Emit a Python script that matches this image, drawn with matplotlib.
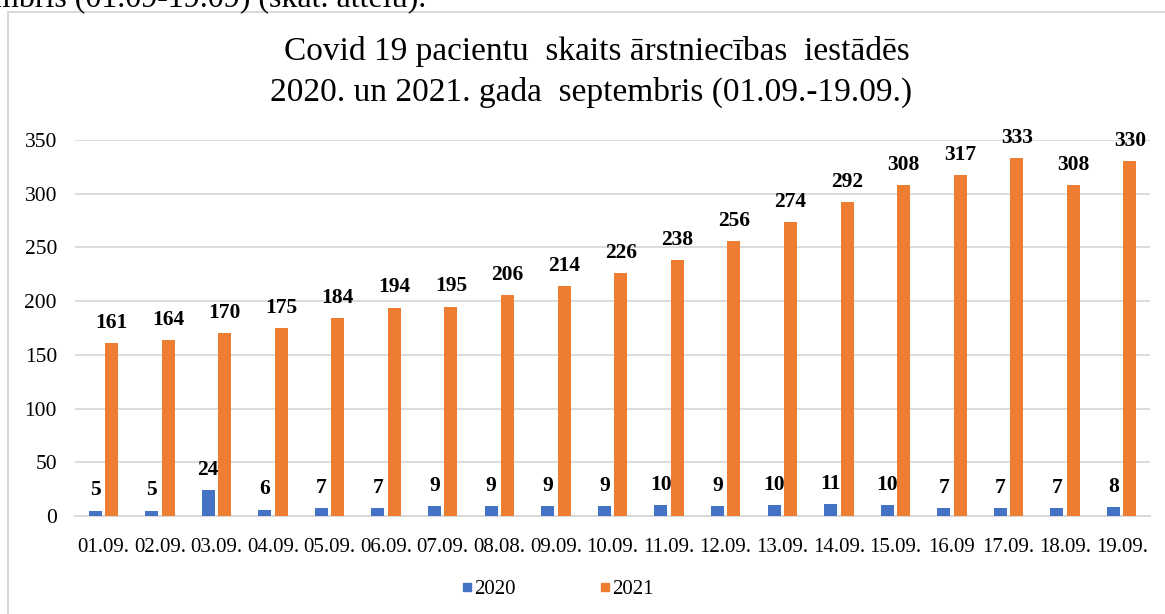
import matplotlib.pyplot as plt
import numpy as np
from matplotlib.lines import Line2D
from matplotlib.patches import Rectangle

plt.rcParams['font.family'] = ['Liberation Serif', 'DejaVu Serif']

dates = ["01.09.", "02.09.", "03.09.", "04.09.", "05.09.", "06.09.", "07.09.",
         "08.08.", "09.09.", "10.09.", "11.09.", "12.09.", "13.09.", "14.09.",
         "15.09.", "16.09", "17.09.", "18.09.", "19.09."]
y2020 = [5, 5, 24, 6, 7, 7, 9, 9, 9, 9, 10, 9, 10, 11, 10, 7, 7, 7, 8]
y2021 = [161, 164, 170, 175, 184, 194, 195, 206, 214, 226, 238, 256, 274, 292,
         308, 317, 333, 308, 330]
years = ["2020", "2021"]
colors = ["#4472C4", "#ED7D31"]

W, H = 1165, 614
fig = plt.figure(figsize=(W / 100, H / 100), dpi=100)
ax = fig.add_axes([75 / W, (H - 516) / H, (1150 - 75) / W, (516 - 140) / H])

x = np.arange(len(dates))
bw = 0.23
off = 0.145
b1 = ax.bar(x - off, y2020, bw, color=colors[0], zorder=3)
b2 = ax.bar(x + off, y2021, bw, color=colors[1], zorder=3)

for bars in (b1, b2):
    for r in bars:
        ax.annotate(str(int(r.get_height())), (r.get_x() + r.get_width() / 2, r.get_height()),
                    xytext=(0, 14.5), textcoords="offset points", ha="center", va="center",
                    fontsize=15.5, fontweight="bold", zorder=4)

ax.set_xlim(-0.5, len(dates) - 0.5)
ax.set_ylim(0, 350)
ax.set_yticks(range(0, 351, 50))
ax.set_xticks(x)
ax.set_xticklabels(dates)
ax.tick_params(axis="y", length=0, pad=13, labelsize=15.5)
ax.tick_params(axis="x", length=0, pad=16, labelsize=15)
ax.yaxis.grid(True, color="#d9d9d9", lw=1.3, zorder=0)
for s in ["top", "right", "left"]:
    ax.spines[s].set_visible(False)
ax.spines["bottom"].set_color("#d9d9d9")
ax.spines["bottom"].set_linewidth(1.5)

handles = [Line2D([], [], marker="s", ls="", color=c, markersize=6) for c in colors]
fig.legend(handles, years, loc="center", bbox_to_anchor=(557 / W, 1 - 589 / H), ncol=2,
           frameon=False, fontsize=15, handlelength=0.6, handletextpad=0.05, columnspacing=4.0)

fig.text(597 / W, 1 - 60 / H, "Covid 19 pacientu  skaits ārstniecības  iestādēs",
         ha="center", va="baseline", fontsize=24)
fig.text(591 / W, 1 - 101 / H, "2020. un 2021. gada  septembris (01.09.-19.09.)",
         ha="center", va="baseline", fontsize=24)

# chart frame and the clipped document text above it
fig.patches.append(Rectangle((8 / W, -0.1), 1.2, (H - 12) / H + 0.1, transform=fig.transFigure,
                             fill=False, edgecolor="#d9d9d9", lw=1.5))
fig.text(-6 / W, 1 - 7 / H, "mbris (01.09-19.09) (skat. attēlu).", ha="left", va="baseline",
         fontsize=23)

fig.savefig("out.png", dpi=100)
